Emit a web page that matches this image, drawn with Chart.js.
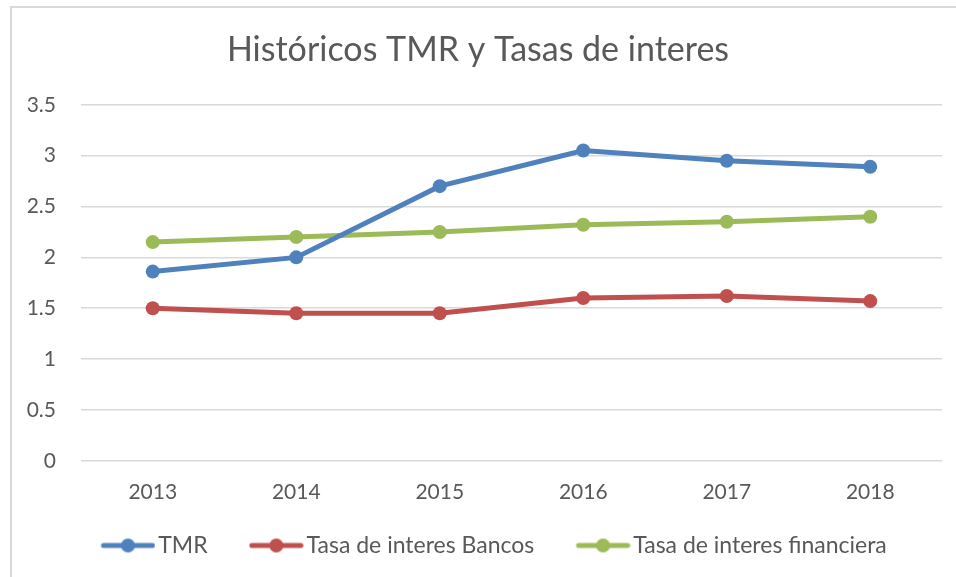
<!DOCTYPE html>
<html>
<head>
<meta charset="utf-8">
<script src="https://cdn.jsdelivr.net/npm/chart.js@4/dist/chart.umd.min.js"></script>
<style>
  html, body { margin: 0; padding: 0; background: #fff; overflow: hidden; }
  #wrap { position: relative; width: 956px; height: 577px; }
  #frame { position: absolute; left: 10px; top: 6px; width: 960px; height: 590px;
           border: 2px solid #d9d9d9; box-sizing: border-box; pointer-events: none; }
</style>
</head>
<body>
<div id="wrap">
  <canvas id="chart" width="956" height="577"></canvas>
  <div id="frame"></div>
</div>
<script>
const years = ['2013', '2014', '2015', '2016', '2017', '2018'];
const tmr = [1.86, 2.00, 2.70, 3.05, 2.95, 2.89];
const bancos = [1.50, 1.45, 1.45, 1.60, 1.62, 1.57];
const financiera = [2.15, 2.20, 2.25, 2.32, 2.35, 2.40];

const FONT = 'Lato, "Open Sans", sans-serif';
const TEXT = '#595959';
const LEG_SIZE = 23;
const MARK_W = 77.5;   // legend box width given to Chart.js

// line-with-dot picture for the legend; the line sits at the right end of the
// image so it ends just before the label text
function legendMark(color) {
    const c = document.createElement('canvas');
    c.width = 95; c.height = 16;
    const g = c.getContext('2d');
    g.strokeStyle = color;
    g.lineWidth = 5;
    g.lineCap = 'round';
    g.beginPath();
    g.moveTo(43, 8);
    g.lineTo(92, 8);
    g.stroke();
    g.fillStyle = color;
    g.beginPath();
    g.arc(67.5, 8, 7, 0, Math.PI * 2);
    g.fill();
    return c;
}

function series(label, data, color) {
    return {
        label: label,
        data: data,
        borderColor: color,
        backgroundColor: color,
        borderWidth: 5,
        pointRadius: 7,
        pointHoverRadius: 7,
        pointBorderWidth: 0,
        pointStyle: 'circle',
        tension: 0,
        fill: false
    };
}

const ctx = document.getElementById('chart').getContext('2d');
const chart = new Chart(ctx, {
    type: 'line',
    data: {
        labels: years,
        datasets: [
            series('TMR', tmr, '#4f81bd'),
            series('Tasa de interes Bancos', bancos, '#c0504d'),
            series('Tasa de interes financiera', financiera, '#9bbb59')
        ]
    },
    options: {
        responsive: false,
        animation: false,
        layout: {
            padding: { left: 14, right: 14, top: 10, bottom: 10 }
        },
        scales: {
            y: {
                min: 0,
                max: 3.5,
                border: { display: false },
                grid: { color: '#d9d9d9', lineWidth: 1.5, drawTicks: false },
                ticks: {
                    stepSize: 0.5,
                    padding: 25,
                    color: TEXT,
                    font: { family: FONT, size: 21 },
                    callback: (v) => v.toString()
                },
                afterFit: (scale) => { scale.width = 67; }
            },
            x: {
                offset: true,
                border: { display: false },
                grid: { display: false, drawTicks: false },
                ticks: {
                    padding: 19,
                    color: TEXT,
                    font: { family: FONT, size: 21 }
                }
            }
        },
        plugins: {
            title: {
                display: true,
                text: 'Históricos TMR y Tasas de interes',
                color: TEXT,
                font: { family: FONT, size: 34, weight: 'normal' },
                padding: { top: 20, bottom: 34 }
            },
            legend: {
                position: 'bottom',
                labels: {
                    color: TEXT,
                    font: { family: FONT, size: LEG_SIZE },
                    usePointStyle: true,
                    pointStyleWidth: MARK_W,
                    padding: 10,
                    generateLabels: (c) => c.data.datasets.map((ds, i) => ({
                        text: ds.label,
                        fontColor: TEXT,
                        pointStyle: legendMark(ds.borderColor),
                        datasetIndex: i,
                        lineWidth: 0,
                        strokeStyle: 'transparent',
                        fillStyle: ds.borderColor
                    }))
                }
            },
            tooltip: { enabled: false }
        }
    }
});
</script>
</body>
</html>
